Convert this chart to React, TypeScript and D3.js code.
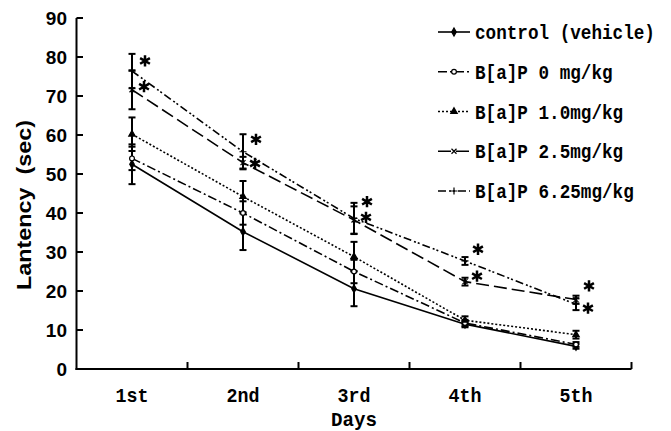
import React from "react";
import * as d3 from "d3";

const days = ["1st", "2nd", "3rd", "4th", "5th"];
const yTicks = [0, 10, 20, 30, 40, 50, 60, 70, 80, 90];

const seriesNames = [
  "control (vehicle)",
  "B[a]P 0 mg/kg",
  "B[a]P 1.0mg/kg",
  "B[a]P 2.5mg/kg",
  "B[a]P 6.25mg/kg",
];
const controlMean = [52.5, 35.2, 20.6, 11.5, 5.8];
const controlErr = [5.1, 4.7, 4.5, 0.8, 0.6];
const bap0Mean = [54, 40, 25, 11.8, 6.3];
const bap0Err = [3, 3, 3, 0.8, 0.6];
const bap1Mean = [60.2, 44.2, 28.8, 12.5, 8.8];
const bap1Err = [4.3, 4, 3.8, 1, 1];
const bap25Mean = [71.6, 52.9, 38.2, 22.4, 17.8];
const bap25Err = [5, 1.5, 3.5, 1, 1];
const bap625Mean = [76.4, 55.7, 38.6, 27.7, 16.6];
const bap625Err = [4.4, 4.5, 4, 1, 1.5];

const starHigh = [79, 58.9, 42.9, 30.7, 21.3];
const starLow = [72.4, 52.7, 38.9, 23.8, 15.6];

const means = [controlMean, bap0Mean, bap1Mean, bap25Mean, bap625Mean];
const errs = [controlErr, bap0Err, bap1Err, bap25Err, bap625Err];
const dashes = ["", "9,3,2,3", "2,2", "13,5", "8,3,2,2,2,3"];
const symbols = [d3.symbolDiamond, d3.symbolCircle, d3.symbolTriangle, d3.symbolTimes, d3.symbolPlus];
const symFill = ["#000", "#fff", "#000", "none", "none"];

const MONO = "Liberation Mono, monospace";
const SANS = "Liberation Sans, Arial, sans-serif";

export default function App() {
  const x = d3.scaleBand().domain(days).range([76.5, 631.5]);
  const y = d3.scaleLinear().domain([0, 90]).range([369, 18]);
  const cx = (d: string) => (x(d) as number) + x.bandwidth() / 2;
  const line = d3
    .line<number>()
    .x((_, i) => cx(days[i]))
    .y((v) => y(v));
  const starPath = d3.symbol(d3.symbolAsterisk, 90)() as string;
  const boundaries = days.map((d) => (x(d) as number) + x.bandwidth());
  const legendY = d3.scalePoint().domain(seriesNames).range([32, 191]);

  return (
    <svg
      width={671}
      height={431}
      style={{ position: "absolute", left: 0, top: 0, background: "#fff" }}
    >
      {/* axes */}
      <line x1={76.5} x2={76.5} y1={y(90)} y2={y(0) + 1} stroke="#000" strokeWidth={2} />
      <line x1={75.5} x2={631.5} y1={y(0)} y2={y(0)} stroke="#000" strokeWidth={2} />
      {yTicks.map((t) => (
        <g key={t}>
          <line x1={76.5} x2={83} y1={y(t)} y2={y(t)} stroke="#000" strokeWidth={2} />
          <text
            x={67}
            y={y(t)}
            dy="0.36em"
            textAnchor="end"
            fontFamily={SANS}
            fontWeight="bold"
            fontSize={19}
          >
            {t}
          </text>
        </g>
      ))}
      {boundaries.map((b, i) => (
        <line key={i} x1={b} x2={b} y1={y(0)} y2={y(0) - 7} stroke="#000" strokeWidth={2} />
      ))}
      {days.map((d) => (
        <text
          key={d}
          x={cx(d)}
          y={402}
          textAnchor="middle"
          fontFamily={MONO}
          fontWeight="bold"
          fontSize={21}
          textLength={d.length * 11}
          lengthAdjust="spacingAndGlyphs"
        >
          {d}
        </text>
      ))}
      <text
        x={cx("3rd")}
        y={426}
        textAnchor="middle"
        fontFamily={MONO}
        fontWeight="bold"
        fontSize={21}
        textLength={46}
        lengthAdjust="spacingAndGlyphs"
      >
        Days
      </text>
      <text
        transform={`translate(31,205) rotate(-90)`}
        textAnchor="middle"
        fontFamily={SANS}
        fontWeight="bold"
        fontSize={20}
        textLength={170}
        lengthAdjust="spacingAndGlyphs"
        style={{ whiteSpace: "pre" }}
      >
        {"Lantency  (sec)"}
      </text>

      {/* error bars */}
      {means.map((m, si) =>
        m.map((v, i) => {
          const xc = cx(days[i]);
          const lo = y(v - errs[si][i]);
          const hi = y(v + errs[si][i]);
          return (
            <g key={`e${si}-${i}`} stroke="#000" strokeWidth={2}>
              <line x1={xc} x2={xc} y1={lo} y2={hi} />
              <line x1={xc - 3.5} x2={xc + 3.5} y1={lo} y2={lo} />
              <line x1={xc - 3.5} x2={xc + 3.5} y1={hi} y2={hi} />
            </g>
          );
        })
      )}

      {/* lines */}
      {means.map((m, si) => (
        <path
          key={`l${si}`}
          d={line(m) as string}
          fill="none"
          stroke="#000"
          strokeWidth={1.6}
          strokeDasharray={dashes[si] || undefined}
        />
      ))}
      {means.map((m, si) =>
        m.map((v, i) => (
          <path
            key={`m${si}-${i}`}
            d={d3.symbol(symbols[si], 18)() as string}
            transform={`translate(${cx(days[i])},${y(v)})`}
            fill={symFill[si]}
            stroke="#000"
            strokeWidth={1.2}
          />
        ))
      )}

      {/* significance stars */}
      {starHigh.map((v, i) => (
        <path
          key={`sh${i}`}
          d={starPath}
          transform={`translate(${cx(days[i]) + 13},${y(v)})`}
          stroke="#000"
          strokeWidth={2.5}
          fill="none"
        />
      ))}
      {starLow.map((v, i) => (
        <path
          key={`sl${i}`}
          d={starPath}
          transform={`translate(${cx(days[i]) + 12},${y(v)})`}
          stroke="#000"
          strokeWidth={2.5}
          fill="none"
        />
      ))}

      {/* legend */}
      {seriesNames.map((n, si) => {
        const ly = legendY(n) as number;
        return (
          <g key={n}>
            <line
              x1={438}
              x2={470}
              y1={ly}
              y2={ly}
              stroke="#000"
              strokeWidth={1.6}
              strokeDasharray={dashes[si] || undefined}
            />
            <path
              d={d3.symbol(symbols[si], 18)() as string}
              transform={`translate(454,${ly})`}
              fill={symFill[si]}
              stroke="#000"
              strokeWidth={1.2}
            />
            <g transform={`translate(475,${ly + 7}) scale(0.98,1.1)`}>
              <text
                x={0}
                y={0}
                fontFamily={MONO}
                fontWeight="bold"
                fontSize={18}
              >
                {n}
              </text>
            </g>
          </g>
        );
      })}
    </svg>
  );
}
